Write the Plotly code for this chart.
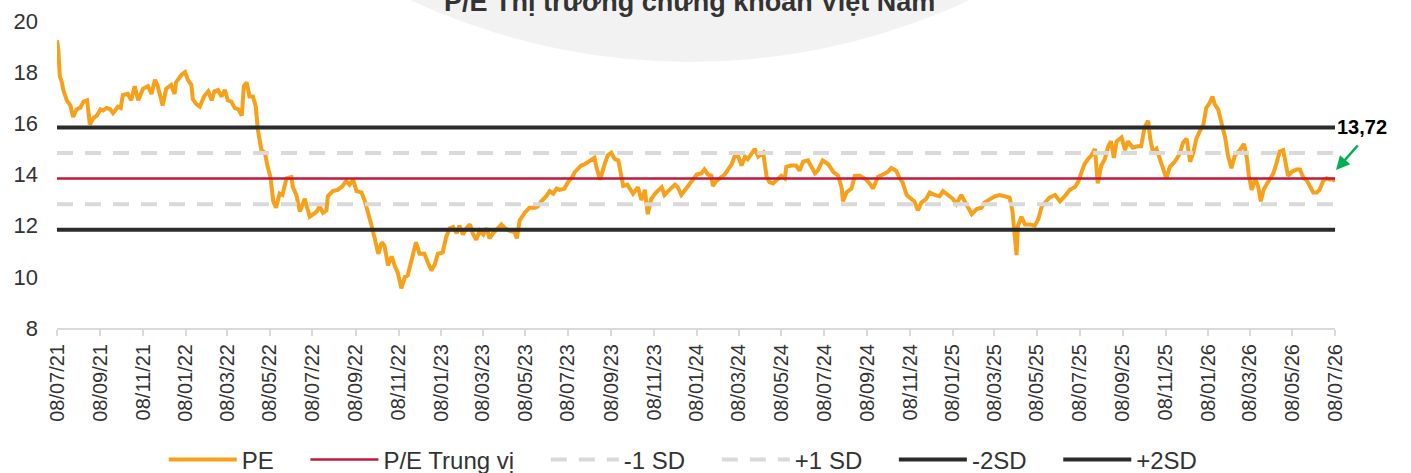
import plotly.graph_objects as go
import pandas as pd

# ---------------- data ----------------
md_2021 = ["07-08","07-10","07-12","07-15","07-17","07-22","07-27","07-31","08-05","08-10","08-15","08-20",
           "08-24","08-29","09-03","09-08","09-12","09-17","09-22","09-26","10-03","10-07","10-10","10-17",
           "10-22","10-27","11-01","11-08","11-15","11-20","11-25","11-29","12-06","12-11","12-18","12-23","12-25"]
pe_2021 = [19.25,18.85,17.85,17.6,17.3,16.9,16.7,16.25,16.55,16.6,16.85,16.9,15.95,16.2,16.3,16.55,16.5,16.6,
           16.55,16.4,16.65,16.6,17.1,17.15,16.9,17.45,16.9,17.35,17.45,17.15,17.7,17.45,16.7,17.35,17.5,17.15,17.6]

md_2022 = ["01-02","01-07","01-11","01-16","01-18","01-23","01-28","02-03","02-09","02-14","02-18","02-23",
           "02-28","03-05","03-09","03-14","03-19","03-24","03-29","04-01","04-05","04-09","04-14","04-18",
           "04-21","04-26","05-01","05-05","05-09","05-13","05-17","05-22","05-26","06-01","06-08","06-10",
           "06-15","06-20","06-27","07-04","07-14","07-18","07-23","07-28","07-30","08-06","08-13","08-20",
           "08-25","08-30","09-04","09-09","09-16","09-21","09-26","09-30","10-05","10-10","10-15","10-19",
           "10-24","10-29","11-03","11-07","11-12","11-17","11-21","11-26","12-03","12-08","12-15","12-20",
           "12-25","12-30"]
pe_2022 = [17.9,18.0,17.7,17.5,16.95,16.75,16.65,17.05,17.25,16.9,17.25,17.3,17.05,17.3,16.9,16.85,16.6,16.55,
           16.3,17.45,17.6,17.05,17.05,16.65,15.75,14.95,14.85,14.3,13.9,12.95,12.7,13.25,13.2,13.85,13.9,13.5,
           13.2,12.55,13.05,12.35,12.55,12.75,12.5,12.6,13.15,13.35,13.4,13.55,13.75,13.6,13.8,13.35,13.3,12.95,
           12.5,12.05,11.5,10.9,11.35,11.2,10.45,10.8,10.4,10.15,9.55,10.0,10.05,10.65,11.35,10.9,10.9,10.55,
           10.25,10.5]

md_2023 = ["01-03","01-10","01-15","01-20","01-25","01-30","02-03","02-08","02-13","02-18","02-22","02-27",
           "03-04","03-09","03-14","03-18","03-23","03-30","04-04","04-09","04-16","04-23","04-26","04-30",
           "05-07","05-14","05-22","05-26","05-31","06-07","06-12","06-17","06-22","06-26","07-03","07-08",
           "07-13","07-18","07-22","07-27","08-01","08-06","08-11","08-15","08-18","08-23","08-30","09-03",
           "09-08","09-13","09-18","09-22","09-25","10-01","10-09","10-16","10-21","10-26","10-30","11-04",
           "11-11","11-19","11-23","11-30","12-08","12-12","12-17","12-24","12-31"]
pe_2023 = [10.9,10.95,11.55,11.9,11.95,11.7,12.0,11.65,11.9,12.05,11.7,11.45,11.8,11.65,11.9,11.5,11.7,11.9,
           12.05,11.9,11.8,11.75,11.5,12.2,12.5,12.7,12.7,12.75,12.95,13.15,13.35,13.25,13.45,13.4,13.45,13.7,
           13.85,14.1,14.2,14.35,14.4,14.5,14.6,14.65,14.25,13.8,14.45,14.75,14.85,14.6,14.55,13.95,13.55,13.6,
           13.25,13.5,13.0,13.4,12.45,13.05,13.3,13.5,13.2,13.4,13.6,13.5,13.2,13.45,13.7]

md_2024 = ["01-08","01-15","01-19","01-24","01-29","01-31","02-05","02-10","02-17","02-22","02-27","03-02",
           "03-07","03-12","03-17","03-21","03-26","03-31","04-05","04-12","04-17","04-21","04-26","05-03",
           "05-08","05-13","05-15","05-22","05-29","06-03","06-08","06-15","06-20","06-25","06-29","07-06",
           "07-14","07-21","07-28","08-02","08-04","08-09","08-16","08-21","08-28","09-06","09-11","09-16",
           "09-23","09-30","10-07","10-12","10-19","10-24","10-28","11-03","11-10","11-14","11-19","11-24",
           "12-01","12-06","12-13","12-20","12-25"]
pe_2024 = [14.0,14.05,14.2,14.0,13.95,13.55,13.75,13.85,14.0,14.2,14.4,14.7,14.75,14.35,14.7,14.6,14.8,15.0,
           14.7,14.85,13.9,13.7,13.65,13.8,13.95,13.85,14.3,14.35,14.35,14.15,14.5,14.55,14.3,14.05,14.15,14.55,
           14.4,14.1,13.95,13.5,12.95,13.3,13.45,13.95,13.95,13.8,13.65,13.45,13.9,14.0,14.1,14.25,14.15,13.85,
           13.7,13.2,13.05,12.95,12.6,12.9,13.05,13.3,13.2,13.15,13.35]

md_2025 = ["01-01","01-08","01-13","01-20","01-27","02-04","02-11","02-18","02-22","03-02","03-09","03-16",
           "03-23","03-30","04-03","04-05","04-09","04-11","04-16","04-21","04-28","05-05","05-10","05-15",
           "05-19","05-26","06-03","06-10","06-17","06-24","07-01","07-06","07-11","07-15","07-20","07-25",
           "07-30","08-01","08-03","08-08","08-13","08-18","08-22","08-26","08-30","09-06","09-11","09-15",
           "09-22","09-29","10-04","10-09","10-14","10-17","10-21","10-26","10-31","11-04","11-09","11-14",
           "11-21","11-28","12-03","12-08","12-13","12-17","12-22","12-27"]
pe_2025 = [13.2,13.05,12.85,13.2,12.85,12.45,12.65,12.7,12.9,13.05,13.15,13.2,13.15,13.1,12.6,11.85,10.85,12.0,
           12.35,12.05,12.05,12.0,12.25,12.75,12.9,13.1,13.2,12.95,13.15,13.4,13.5,13.7,14.1,14.4,14.6,14.75,
           15.0,13.95,13.65,14.35,14.6,15.1,15.3,14.65,15.3,15.45,14.95,15.3,15.05,15.1,15.1,15.85,16.1,15.4,
           14.85,15.0,14.55,14.3,13.85,14.3,14.5,14.8,15.25,15.4,14.5,14.8,15.4,15.7]

md_2026 = ["01-01","01-05","01-10","01-14","01-17","01-22","01-27","02-01","02-05","02-10","02-15","02-22",
           "02-28","03-04","03-07","03-11","03-16","03-20","03-24","03-28","04-01","04-06","04-11","04-16",
           "04-20","04-25","04-28","05-02","05-07","05-14","05-19","05-24","05-28","06-02","06-07","06-12",
           "06-16","06-21","06-26","07-01","07-06","07-08"]
pe_2026 = [15.95,16.6,16.8,17.05,16.75,16.55,16.05,15.45,14.75,14.25,14.75,14.95,15.2,14.65,13.95,13.4,13.85,
           13.55,12.95,13.4,13.6,13.8,14.05,14.5,14.9,14.95,14.45,13.95,14.1,14.2,14.2,13.85,13.8,13.55,13.3,
           13.3,13.4,13.75,13.85,13.8,13.8,13.72]

band_names = ["P/E Trung vị", "-1 SD", "+1 SD", "-2SD", "+2SD"]
band_values = [13.84, 12.84, 14.84, 11.84, 15.84]

tick_labels = ["08/07/21","08/09/21","08/11/21","08/01/22","08/03/22","08/05/22","08/07/22","08/09/22",
               "08/11/22","08/01/23","08/03/23","08/05/23","08/07/23","08/09/23","08/11/23","08/01/24",
               "08/03/24","08/05/24","08/07/24","08/09/24","08/11/24","08/01/25","08/03/25","08/05/25",
               "08/07/25","08/09/25","08/11/25","08/01/26","08/03/26","08/05/26","08/07/26"]

# ---------------- assemble ----------------
dates, pe = [], []
for yr, mds, vals in [(2021, md_2021, pe_2021), (2022, md_2022, pe_2022), (2023, md_2023, pe_2023),
                      (2024, md_2024, pe_2024), (2025, md_2025, pe_2025), (2026, md_2026, pe_2026)]:
    if len(mds) != len(vals):
        raise ValueError(f"length mismatch {yr}: {len(mds)} vs {len(vals)}")
    dates += [f"{yr}-{m}" for m in mds]
    pe += vals

tick_dates = pd.to_datetime(tick_labels, format="%d/%m/%y")
x0, x1 = tick_dates[0], tick_dates[-1]

FONT = "Liberation Sans, Arial, sans-serif"
TXT = "#333333"
PAD = "\u00a0" * 4  # extra spacing between legend entries

band_styles = {
    "P/E Trung vị": dict(color="#C0183A", width=2.5),
    "-1 SD": dict(color="#D9D9D9", width=4, dash="16px,12px"),
    "+1 SD": dict(color="#D9D9D9", width=4, dash="16px,12px"),
    "-2SD": dict(color="#2B2B2B", width=4),
    "+2SD": dict(color="#2B2B2B", width=4),
}

fig = go.Figure()
fig.add_trace(go.Scatter(x=dates, y=pe, mode="lines", name="PE" + PAD,
                         line=dict(color="#F7A01A", width=4)))
for i, (name, val) in enumerate(zip(band_names, band_values)):
    label = name + (PAD if i < len(band_names) - 1 else "")
    fig.add_trace(go.Scatter(x=[x0, x1], y=[val, val], mode="lines", name=label,
                             line=band_styles[name], hoverinfo="skip"))

# decorative light-grey disc behind the title
fig.add_shape(type="circle", xref="paper", yref="paper",
              x0=-0.0235, x1=1.0141, y0=0.8664, y1=5.19,
              fillcolor="#F2F2F2", line=dict(width=0), layer="below")

fig.add_annotation(text="<b>P/E Thị trường chứng khoán Việt Nam</b>", xref="paper", yref="paper",
                   x=0.4953, y=1.062, xanchor="center", yanchor="middle", showarrow=False,
                   font=dict(family=FONT, size=27, color=TXT))

last_label = f"{pe[-1]:.2f}".replace(".", ",")
fig.add_annotation(text=f"<b>{last_label}</b>", xref="paper", yref="paper",
                   x=1.0211, y=0.6547, xanchor="center", yanchor="middle", showarrow=False,
                   font=dict(family=FONT, size=20, color="#000000"))
fig.add_annotation(text="", xref="paper", yref="paper", x=1.0008, y=0.5147,
                   ax=23, ay=-26, showarrow=True, arrowhead=2, arrowsize=1.1,
                   arrowwidth=2.5, arrowcolor="#00B050")

fig.update_layout(
    width=1411, height=473,
    margin=dict(l=57, r=76, t=21, b=145, autoexpand=False),
    paper_bgcolor="white", plot_bgcolor="rgba(0,0,0,0)",
    font=dict(family=FONT, size=22, color=TXT),
    showlegend=True,
    legend=dict(orientation="h", x=0.49, xanchor="center", y=-0.43, yanchor="middle",
                font=dict(family=FONT, size=24, color=TXT), itemwidth=68,
                bgcolor="rgba(0,0,0,0)"),
)
fig.update_xaxes(type="date", range=[x0, x1], tickmode="array", tickvals=tick_dates, ticktext=tick_labels,
                 tickangle=-90, tickfont=dict(family=FONT, size=20, color=TXT),
                 showgrid=False, zeroline=False, showline=True, linecolor="#D9D9D9", linewidth=2,
                 ticks="outside", ticklen=6, tickwidth=2, tickcolor="#D9D9D9")
fig.update_yaxes(range=[8, 20], dtick=2, tick0=8, showgrid=False, zeroline=False, showline=False,
                 tickfont=dict(family=FONT, size=22, color=TXT), ticklabelstandoff=18)

fig.write_html("out.html", config={"displayModeBar": False},
               post_script="document.body.style.margin='0';document.body.style.overflow='hidden';")
